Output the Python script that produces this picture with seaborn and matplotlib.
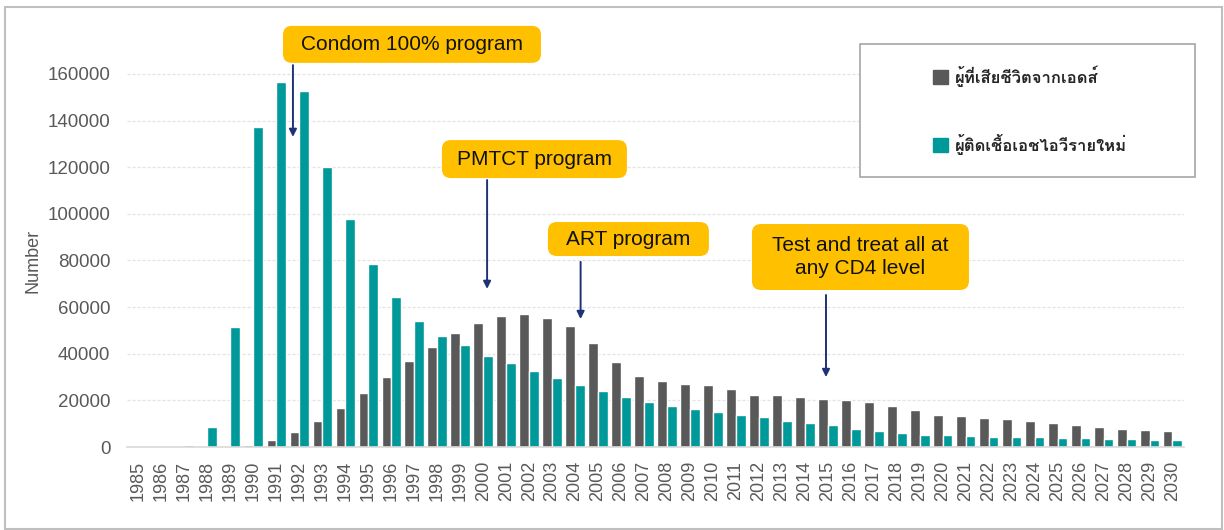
import numpy as np
import pandas as pd
import seaborn as sns
import matplotlib.pyplot as plt
from matplotlib import font_manager, ft2font
from matplotlib.patches import Rectangle, FancyBboxPatch
from matplotlib.transforms import IdentityTransform

# Data
years = [str(y) for y in range(1985, 2031)]
deaths = [0, 0, 0, 0, 0, 700, 2900, 6300, 11000, 16600, 23000, 29900, 36900,
          43100, 48700, 53400, 56300, 57100, 55300, 52000, 44400, 36400, 30600,
          28300, 27000, 26400, 25000, 22400, 22100, 21600, 20400, 20100, 19100,
          17700, 15700, 13900, 13300, 12600, 11900, 11000, 10100, 9300, 8700,
          7900, 7300, 6900]
new_infections = [0, 0, 1000, 8500, 51400, 137400, 156600, 152600, 120000,
                  98000, 78400, 64400, 54100, 47700, 43600, 39100, 35900, 32400,
                  29400, 26700, 23900, 21600, 19400, 17700, 16300, 15000, 13900,
                  12900, 11300, 10400, 9300, 7900, 7000, 6000, 5100, 5100, 4900,
                  4400, 4100, 4100, 3900, 3700, 3400, 3400, 3100, 2900]
series_names = ["ผู้ที่เสียชีวิตจากเอดส์", "ผู้ติดเชื้อเอชไอวีรายใหม่"]
y_ticks = list(range(0, 160001, 20000))

# annotation labels: text, centre (x, y), box size in px, arrow x, arrow tail y, arrow tip y
programs = [
    ("Condom 100% program", 11.9, 172700, (258, 37), 6.72, 163800, 133000),
    ("PMTCT program", 17.23, 123500, (185, 38), 15.17, 114500, 67800),
    ("ART program", 21.32, 89200, (161, 34), 19.24, 79400, 54900),
    ("Test and treat all at\nany CD4 level", 31.42, 81500, (217, 66),
     29.92, 65200, 30000),
]

df = pd.DataFrame({
    "year": years * 2,
    "value": deaths + new_infections,
    "series": [series_names[0]] * len(years) + [series_names[1]] * len(years),
})

# find an installed font that can draw Thai
thai_font = "DejaVu Sans"
for f in font_manager.fontManager.ttflist:
    try:
        if 0x0E1C in ft2font.FT2Font(f.fname).get_charmap():
            thai_font = f.name
            break
    except Exception:
        pass

sns.set_style("white")
plt.rcParams["font.family"] = ["Liberation Sans", "DejaVu Sans"]

grey_text = "#595959"
fig = plt.figure(figsize=(12.24, 5.30), dpi=100)
ax = fig.add_axes([0.1038, 0.1566, 0.8635, 0.8057])

sns.barplot(data=df, x="year", y="value", hue="series", hue_order=series_names,
            palette=["#595959", "#009999"], width=0.85, saturation=1,
            ax=ax, legend=False)

ax.set_ylim(0, 183160)
ax.set_yticks(y_ticks)
ax.set_xlim(-0.5, len(years) - 0.5)
ax.grid(axis="y", color="#E3E3E3", linestyle=(0, (2.5, 1.5)), linewidth=0.9)
ax.set_axisbelow(True)
for side in ["top", "right", "left"]:
    ax.spines[side].set_visible(False)
ax.spines["bottom"].set_color("#D9D9D9")
ax.spines["bottom"].set_linewidth(1.2)

ax.set_xticks(np.arange(-0.5, len(years), 1), minor=True)
ax.tick_params(axis="x", which="major", length=0, pad=10, labelrotation=90,
               labelsize=13, labelcolor=grey_text)
ax.tick_params(axis="x", which="minor", length=6, width=1.2, color="#D9D9D9")
ax.tick_params(axis="y", length=0, pad=12, labelsize=13.5, labelcolor=grey_text)

ax.set_xlabel("")
ax.set_ylabel("Number", fontsize=13, color=grey_text)
ax.yaxis.set_label_coords(-0.081, 0.436)

# program annotations: yellow rounded box, text and arrow
for label, tx, ty, (bw, bh), ax_x, tail_y, tip_y in programs:
    cx, cy = ax.transData.transform((tx, ty))
    box = FancyBboxPatch((cx - bw / 2, cy - bh / 2), bw, bh,
                         boxstyle="round,pad=0,rounding_size=9",
                         transform=IdentityTransform(), facecolor="#FFC000",
                         edgecolor="none", clip_on=False, zorder=9)
    ax.add_patch(box)
    ax.text(tx, ty, label, ha="center", va="center", fontsize=15,
            linespacing=1.3, color="#111111", clip_on=False, zorder=10)
    ax.annotate("", xy=(ax_x, tip_y), xytext=(ax_x, tail_y),
                arrowprops=dict(arrowstyle="-|>", color="#1F3278", lw=1.4,
                                mutation_scale=11, shrinkA=0, shrinkB=0))

# legend inside its own framed box
fig.patches.append(Rectangle((860 / 1224, 1 - 177 / 530), 335 / 1224, 133 / 530,
                             transform=fig.transFigure, facecolor="white",
                             edgecolor="#A6A6A6", linewidth=1.2, zorder=5))
handles = [Rectangle((0, 0), 1, 1, color=c) for c in ["#595959", "#009999"]]
fig.legend(handles, series_names, loc="center",
           bbox_to_anchor=(1030 / 1224, 1 - 110 / 530), frameon=False,
           prop={"family": [thai_font, "DejaVu Sans"], "size": 12, "weight": "bold"},
           handlelength=0.9, handleheight=0.9, handletextpad=0.4,
           labelspacing=2.8, labelcolor="#262626")

# outer border of the picture
fig.patches.append(Rectangle((5 / 1224, 1 / 530), 1217 / 1224, 522 / 530,
                             transform=fig.transFigure, fill=False,
                             edgecolor="#BFBFBF", linewidth=1.5))

fig.savefig("out.png", dpi=100)
